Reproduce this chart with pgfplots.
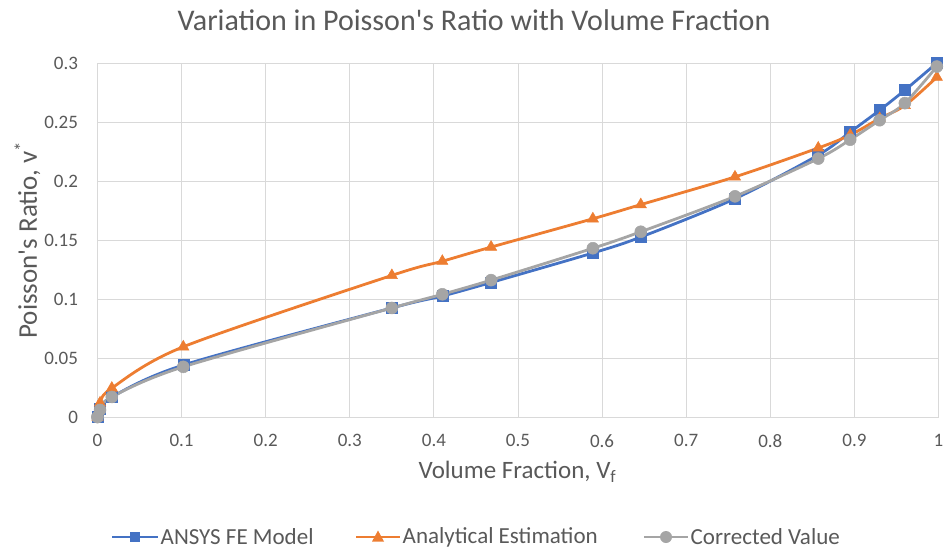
\documentclass[border=0pt]{standalone}
\usepackage{fontspec}
\setmainfont{Carlito}
\usepackage{pgfplots}
\pgfplotsset{compat=1.18}
\definecolor{cblue}{HTML}{4472C4}
\definecolor{corange}{HTML}{ED7D31}
\definecolor{cgray}{HTML}{A5A5A5}
\definecolor{cgrid}{HTML}{D9D9D9}
\definecolor{ctext}{HTML}{595959}
\begin{document}
\begin{tikzpicture}
\useasboundingbox (-97.5pt,-133pt) rectangle (846.5pt,417pt);
\begin{axis}[
  at={(0,0)}, anchor=south west,
  scale only axis, width=841pt, height=354pt,
  xmin=0, xmax=1, ymin=0, ymax=0.3,
  xtick={0,0.1,0.2,0.3,0.4,0.5,0.6,0.7,0.8,0.9,1},
  ytick={0,0.05,0.1,0.15,0.2,0.25,0.3},
  xticklabels={0,0.1,0.2,0.3,0.4,0.5,0.6,0.7,0.8,0.9,1},
  yticklabels={0,0.05,0.1,0.15,0.2,0.25,0.3},
  grid=major,
  major grid style={cgrid, line width=1pt},
  axis line style={cgrid, line width=1pt},
  tick style={draw=none},
  ticklabel style={font=\fontsize{19}{22}\selectfont, text=ctext},
  xticklabel style={yshift=-14pt},
  yticklabel style={xshift=-16pt},
  clip=false,
  every axis plot/.append style={line width=2.8pt, smooth, tension=0.5},
]
\addplot[cgray, mark=*, mark size=6pt, mark options={fill=cgray, draw=cgray, line width=0.5pt}, forget plot] coordinates {(0,0)};
\addplot[cblue, mark=square*, mark size=5.5pt, mark options={fill=cblue, draw=cblue, line width=0.5pt}] coordinates {
(0,0) (0.003,0.007) (0.017,0.017) (0.102,0.044) (0.35,0.0924) (0.41,0.1025) (0.468,0.114) (0.589,0.139) (0.646,0.1525) (0.758,0.185) (0.857,0.222) (0.895,0.2415) (0.930,0.260) (0.960,0.277) (0.998,0.300)};
\addplot[corange, mark=triangle*, mark size=6.5pt, mark options={fill=corange, draw=corange, line width=0.5pt}] coordinates {
(0,0) (0.003,0.012) (0.017,0.0245) (0.102,0.0595) (0.35,0.120) (0.41,0.132) (0.468,0.144) (0.589,0.168) (0.646,0.180) (0.758,0.2035) (0.857,0.228) (0.895,0.239) (0.930,0.253) (0.960,0.264) (0.998,0.288)};
\addplot[cgray, mark=*, mark size=6pt, mark options={fill=cgray, draw=cgray, line width=0.5pt}] coordinates {
(0,0) (0.003,0.006) (0.017,0.017) (0.102,0.0425) (0.35,0.0924) (0.41,0.104) (0.468,0.116) (0.589,0.143) (0.646,0.157) (0.758,0.187) (0.857,0.219) (0.895,0.235) (0.930,0.2515) (0.960,0.266) (0.998,0.297)};
\end{axis}
\node[font=\fontsize{30}{34}\selectfont, text=ctext] at (376.5pt,397pt) {Variation in Poisson\textquotesingle s Ratio with Volume Fraction};
\node[font=\fontsize{25}{28}\selectfont, text=ctext] at (420pt,-55pt) {Volume Fraction, V\textsubscript{f}};
\node[font=\fontsize{27}{30}\selectfont, text=ctext, rotate=90] at (-70pt,177pt) {Poisson\textquotesingle s Ratio, v\textsuperscript{*}};
% legend
\begin{scope}[yshift=-120pt]
\draw[cblue, line width=2.8pt] (14.5pt,0) -- (60.5pt,0);
\node[fill=cblue, minimum size=10pt, inner sep=0pt] at (37.5pt,0) {};
\node[anchor=west, font=\fontsize{23}{26}\selectfont, text=ctext, inner sep=0pt] at (63pt,0) {ANSYS FE Model};
\draw[corange, line width=2.8pt] (258.5pt,0) -- (302.5pt,0);
\fill[corange] (280.5pt,6.5pt) -- (274.5pt,-4.5pt) -- (286.5pt,-4.5pt) -- cycle;
\node[anchor=west, font=\fontsize{23}{26}\selectfont, text=ctext, inner sep=0pt] at (305pt,0) {Analytical Estimation};
\draw[cgray, line width=2.8pt] (546.5pt,0) -- (590.5pt,0);
\fill[cgray] (568.5pt,0) circle (6pt);
\node[anchor=west, font=\fontsize{23}{26}\selectfont, text=ctext, inner sep=0pt] at (593pt,0) {Corrected Value};
\end{scope}
\end{tikzpicture}
\end{document}
